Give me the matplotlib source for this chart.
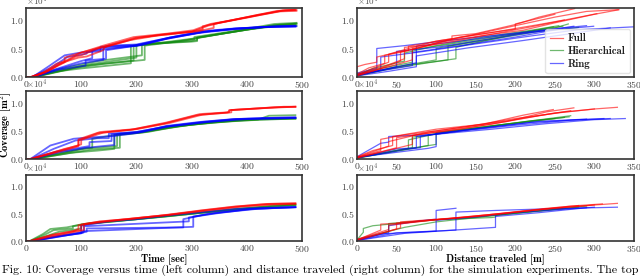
import matplotlib
matplotlib.use("Agg")
import matplotlib.pyplot as plt
from matplotlib.ticker import ScalarFormatter

plt.rcParams['font.family'] = ['cmr10', 'DejaVu Serif']
plt.rcParams['mathtext.fontset'] = 'cm'
plt.rcParams['axes.unicode_minus'] = False
plt.rcParams['axes.formatter.use_mathtext'] = True

# ---------------- data (coverage in m^2) ----------------
# Top-left: coverage vs time
TL_RED = [
    ([0, 8, 30, 55, 75, 98, 140, 195, 255, 303, 334, 376, 455, 488],
     [0, 0, 700, 2300, 3000, 4200, 5500, 7000, 7600, 8200, 9300, 10000, 11600, 11700]),
    ([0, 10, 35, 60, 70, 70, 100, 145, 200, 260, 300, 320, 320, 380, 460, 490],
     [0, 0, 800, 2200, 2600, 3400, 4300, 5400, 6900, 7500, 8000, 8300, 8900, 10100, 11500, 11600]),
    ([0, 9, 40, 65, 95, 110, 140, 142, 200, 250, 310, 340, 340, 400, 465, 490],
     [0, 0, 1100, 2500, 3400, 3600, 4700, 5200, 6800, 7500, 8000, 8600, 9300, 10400, 11700, 11800]),
    ([0, 12, 45, 80, 90, 100, 130, 190, 240, 300, 330, 350, 420, 470, 487],
     [0, 0, 1300, 3100, 3600, 3800, 5000, 6500, 7300, 7900, 9000, 9500, 10900, 11700, 11800]),
]
TL_GREEN = [
    ([0, 14, 50, 100, 190, 190, 240, 300, 310, 310, 400, 460, 490],
     [0, 0, 900, 1500, 2400, 5400, 5900, 6300, 6500, 6900, 8300, 9200, 9300]),
    ([0, 12, 60, 100, 195, 195, 250, 305, 305, 380, 450, 490],
     [0, 0, 1000, 1900, 2900, 5500, 6000, 6600, 7000, 8100, 9300, 9500]),
    ([0, 15, 70, 120, 200, 200, 260, 300, 380, 450, 488],
     [0, 0, 1300, 2300, 3400, 5600, 6200, 6700, 8000, 9100, 9300]),
    ([0, 10, 80, 130, 210, 210, 240, 300, 310, 310, 400, 460, 490],
     [0, 0, 1800, 2800, 3800, 5700, 5900, 6200, 6300, 6900, 8300, 9000, 9000]),
    ([0, 16, 90, 140, 215, 215, 280, 350, 420, 490],
     [0, 0, 1600, 2300, 3000, 5500, 6300, 7500, 8600, 9400]),
]
TL_BLUE = [
    ([0, 12, 40, 70, 100, 135, 135, 200, 255, 315, 376, 436, 488],
     [0, 0, 1800, 3800, 4300, 4500, 5300, 5600, 6800, 8000, 8500, 8800, 8900]),
    ([0, 10, 45, 75, 110, 110, 150, 200, 260, 320, 380, 440, 488],
     [0, 0, 1600, 3500, 4100, 4300, 5500, 5700, 6900, 7900, 8500, 8800, 8850]),
    ([0, 14, 50, 100, 140, 140, 200, 250, 310, 380, 440, 490],
     [0, 0, 1200, 2400, 3000, 5100, 5500, 6600, 7700, 8400, 8800, 8900]),
    ([0, 12, 55, 100, 120, 120, 210, 260, 320, 380, 440, 488],
     [0, 0, 1400, 2800, 3300, 4600, 5600, 6900, 7900, 8500, 8800, 8900]),
    ([0, 15, 60, 108, 108, 145, 145, 200, 260, 330, 400, 460, 487],
     [0, 0, 1300, 2000, 2900, 3200, 4700, 5500, 6800, 8000, 8600, 8900, 9000]),
]

# Middle-left
ML_RED = [
    ([0, 7, 44, 70, 95, 95, 134, 195, 255, 315, 365, 370, 436, 467, 488],
     [0, 0, 1000, 1800, 2400, 3500, 4800, 5300, 6500, 8000, 8300, 8700, 9100, 9300, 9300]),
    ([0, 8, 50, 80, 100, 100, 140, 200, 260, 320, 368, 368, 440, 488],
     [0, 0, 1200, 2000, 2600, 3400, 4700, 5300, 6400, 7900, 8300, 8700, 9100, 9300]),
    ([0, 9, 40, 90, 95, 95, 130, 190, 250, 310, 372, 372, 450, 488],
     [0, 0, 800, 2100, 2300, 3300, 4600, 5200, 6300, 7800, 8300, 8700, 9200, 9300]),
]
ML_GREEN = [
    ([0, 10, 60, 110, 165, 165, 210, 260, 330, 400, 488],
     [0, 0, 1000, 1900, 2300, 4400, 4700, 5600, 6500, 7000, 7200]),
    ([0, 12, 70, 120, 170, 170, 220, 280, 350, 420, 488],
     [0, 0, 900, 1700, 2000, 4400, 4800, 5900, 6600, 7100, 7200]),
    ([0, 14, 80, 130, 160, 160, 200, 260, 340, 420, 440, 488],
     [0, 0, 1100, 1500, 1800, 4200, 4600, 5700, 6500, 7000, 7700, 7800]),
    ([0, 11, 60, 100, 120, 120, 170, 230, 300, 380, 488],
     [0, 0, 900, 1800, 2000, 3600, 4400, 5100, 6100, 6800, 7200]),
]
ML_BLUE = [
    ([0, 8, 44, 86, 110, 160, 200, 255, 316, 376, 436, 488],
     [0, 0, 2400, 3600, 3800, 4100, 4600, 5900, 6600, 7100, 7300, 7400]),
    ([0, 10, 50, 90, 130, 150, 150, 200, 255, 320, 380, 488],
     [0, 0, 1800, 3300, 3700, 3700, 4500, 4800, 5800, 6600, 7100, 7300]),
    ([0, 12, 60, 110, 160, 160, 210, 260, 320, 380, 440, 488],
     [0, 0, 1200, 2000, 2500, 4300, 4800, 5800, 6500, 7100, 7300, 7400]),
    ([0, 11, 55, 115, 115, 155, 155, 200, 255, 330, 400, 488],
     [0, 0, 1300, 2300, 3000, 3200, 4400, 4800, 5800, 6600, 7100, 7300]),
]

# Bottom-left
BL_RED = [
    ([0, 7, 44, 92, 100, 100, 134, 195, 255, 316, 376, 436, 488],
     [0, 0, 1000, 1900, 2000, 3000, 3600, 4100, 4800, 5600, 6300, 6800, 6900]),
    ([0, 8, 50, 85, 95, 95, 140, 200, 260, 320, 380, 440, 488],
     [0, 0, 1200, 1800, 2200, 2900, 3500, 4200, 4800, 5600, 6300, 6800, 6900]),
    ([0, 9, 40, 80, 105, 105, 130, 190, 250, 320, 390, 450, 488],
     [0, 0, 700, 1500, 2000, 3100, 3500, 4100, 4700, 5500, 6300, 6700, 6800]),
]
BL_GREEN = [
    ([0, 7, 31, 44, 74, 98, 110, 160, 255, 320, 400, 450, 488],
     [0, 0, 1300, 2200, 2500, 3000, 3200, 3600, 4500, 5200, 6000, 6500, 6700]),
    ([0, 8, 35, 50, 85, 85, 120, 200, 260, 330, 410, 488],
     [0, 0, 1200, 2000, 2300, 2700, 3300, 4000, 4600, 5300, 6000, 6600]),
    ([0, 9, 40, 60, 90, 100, 100, 150, 230, 300, 380, 450, 488],
     [0, 0, 1000, 1700, 2100, 2300, 3000, 3500, 4300, 5000, 5900, 6400, 6600]),
]
BL_BLUE = [
    ([0, 10, 60, 100, 100, 150, 200, 260, 320, 380, 440, 488],
     [0, 0, 900, 1400, 2800, 3600, 4000, 4700, 5300, 5900, 6100, 6200]),
    ([0, 12, 60, 100, 110, 110, 285, 285, 330, 400, 460, 488],
     [0, 0, 800, 1500, 1700, 2300, 2500, 4000, 5000, 5800, 6100, 6200]),
    ([0, 11, 70, 103, 103, 303, 303, 350, 420, 488],
     [0, 0, 1000, 1500, 1800, 2600, 4500, 5200, 5900, 6200]),
    ([0, 10, 55, 100, 105, 105, 295, 295, 340, 410, 488],
     [0, 0, 900, 1600, 1700, 2700, 3600, 4300, 5000, 5900, 6200]),
]

# Top-right: coverage vs distance
TR_RED = [
    ([0, 0, 10, 25, 25, 50, 75, 100, 150, 200, 250, 290, 330],
     [1500, 1800, 2200, 2600, 3500, 4300, 5000, 6000, 7500, 9000, 10500, 11500, 11800]),
    ([0, 20, 40, 40, 60, 100, 120, 120, 150, 200, 230, 260, 275],
     [300, 1500, 2600, 4000, 4800, 6300, 6700, 7200, 7600, 9200, 10500, 11500, 12000]),
    ([0, 30, 55, 55, 75, 110, 160, 210, 250, 300, 331],
     [200, 1500, 2800, 4400, 5000, 6200, 7300, 8200, 9500, 11000, 11800]),
    ([0, 35, 60, 60, 90, 130, 180, 200, 200, 230, 250],
     [400, 1900, 3200, 5200, 5600, 7000, 8000, 8400, 9300, 10300, 11000]),
    ([0, 40, 70, 70, 120, 170, 220, 270, 303],
     [300, 1800, 3000, 5000, 6200, 7500, 8800, 10200, 11100]),
    ([0, 15, 35, 35, 65, 65, 110, 170, 230, 262],
     [500, 1600, 2400, 3800, 4600, 5400, 6500, 7800, 9200, 10000]),
]
TR_GREEN = [
    ([0, 50, 100, 100, 150, 200, 250, 267],
     [300, 1800, 3000, 5000, 6300, 7500, 8600, 9300]),
    ([0, 60, 125, 125, 160, 210, 248],
     [200, 2000, 3200, 5200, 6300, 7800, 8800]),
    ([0, 30, 70, 70, 110, 180, 240, 260],
     [500, 1500, 2600, 4800, 5600, 7200, 8500, 8900]),
    ([0, 40, 90, 115, 115, 170, 230, 280],
     [200, 1400, 2500, 3000, 5400, 6600, 8000, 8700]),
    ([0, 20, 60, 60, 100, 160, 220, 255],
     [300, 1500, 2800, 4200, 5500, 7000, 8200, 9000]),
]
TR_BLUE = [
    ([0, 30, 30, 80, 150, 220, 280, 350],
     [500, 1200, 3500, 4400, 5800, 7200, 8300, 8800]),
    ([0, 75, 75, 130, 190, 250, 299],
     [300, 2500, 5400, 6300, 7400, 8300, 8900]),
    ([0, 50, 50, 100, 160, 220, 274],
     [300, 1800, 4500, 5200, 6500, 7800, 8900]),
    ([0, 25, 25, 60, 120, 200, 260, 290],
     [700, 1500, 5000, 5500, 6500, 7700, 8600, 9000]),
    ([0, 70, 70, 130, 200, 260],
     [400, 2000, 4300, 5500, 7000, 8500]),
    ([0, 40, 75, 75, 140, 210, 280, 320],
     [200, 1000, 1800, 3700, 5100, 6400, 7800, 8600]),
]

# Middle-right
MR_RED = [
    ([0, 30, 30, 60, 100, 150, 200, 250, 300, 329],
     [300, 1500, 3500, 4300, 5000, 6000, 7000, 8200, 8900, 9200]),
    ([0, 50, 50, 80, 130, 190, 240, 274],
     [200, 2000, 3800, 4400, 5300, 6700, 8400, 9100]),
    ([0, 20, 45, 45, 100, 160, 210, 248],
     [400, 1500, 2400, 4000, 5300, 6200, 7800, 8800]),
    ([0, 70, 70, 110, 170, 230, 270],
     [200, 2600, 4200, 5000, 6200, 7700, 8600]),
    ([0, 40, 40, 90, 140, 200, 260, 300],
     [300, 2300, 3100, 4800, 5800, 7200, 8300, 8900]),
]
MR_GREEN = [
    ([0, 60, 90, 90, 150, 210, 270],
     [200, 1600, 2400, 4300, 5500, 6600, 7700]),
    ([0, 70, 70, 120, 180, 240, 262],
     [300, 2000, 3900, 4800, 6000, 7000, 7400]),
    ([0, 50, 100, 100, 160, 220, 250],
     [100, 1500, 2600, 4700, 5700, 6800, 7200]),
    ([0, 65, 65, 110, 170, 230, 268],
     [200, 1900, 3400, 4800, 5900, 6900, 7500]),
]
MR_BLUE = [
    ([0, 30, 40, 40, 100, 170, 240, 300, 339],
     [400, 2800, 3000, 4000, 4400, 5300, 6300, 7000, 7200]),
    ([0, 60, 80, 80, 150, 220, 280, 312],
     [200, 1700, 2000, 4000, 5400, 6500, 7000, 7200]),
    ([0, 90, 100, 100, 160, 230, 290],
     [300, 1900, 2200, 4600, 5500, 6700, 7100]),
    ([0, 50, 75, 75, 120, 200, 270, 320],
     [200, 1800, 2000, 4000, 4800, 6000, 6900, 7200]),
]

# Bottom-right
BR_RED = [
    ([0, 30, 30, 60, 100, 150, 200, 250, 300, 329],
     [200, 2000, 3100, 3300, 3900, 4600, 5300, 6000, 6600, 6900]),
    ([0, 50, 50, 90, 140, 190, 240, 280],
     [100, 2200, 3300, 3800, 4400, 5200, 6000, 6500]),
    ([0, 40, 40, 100, 160, 220, 270, 310],
     [300, 2100, 2900, 3900, 4600, 5600, 6400, 6800]),
    ([0, 55, 55, 120, 180, 240, 300],
     [200, 2400, 3500, 4200, 5000, 5900, 6600]),
]
BR_GREEN = [
    ([0, 8, 8, 20, 50, 100, 160, 220, 280],
     [200, 1600, 2300, 2800, 3200, 3900, 4500, 5400, 6200]),
    ([0, 40, 40, 100, 170, 175, 175, 240, 290],
     [100, 1700, 3200, 3900, 4300, 4400, 4700, 5600, 6400]),
    ([0, 60, 100, 150, 200, 260],
     [300, 2500, 3500, 4300, 5100, 6000]),
]
BR_BLUE = [
    ([0, 40, 40, 80, 100, 100, 125],
     [200, 1500, 2800, 3700, 4000, 5600, 6000]),
    ([0, 50, 125, 125, 175, 240, 300, 329],
     [100, 1500, 2000, 5300, 5600, 5900, 6100, 6200]),
    ([0, 60, 175, 175, 230, 290],
     [100, 1400, 2500, 4500, 5200, 6100]),
    ([0, 30, 100, 100, 150, 200, 260, 300],
     [200, 1300, 1800, 3800, 4400, 5200, 5800, 6200]),
]

LEGEND_LABELS = ["Full", "Hierarchical", "Ring"]
TIME_TICKS = [0, 100, 200, 300, 400, 500]
DIST_TICKS = [0, 50, 100, 150, 200, 250, 300, 350]
Y_TICKS = [0, 5000, 10000]

COLORS = {"red": "#ff0000", "green": "#108a10", "blue": "#0000ff"}

fig = plt.figure(figsize=(6.4, 2.76), dpi=100)

lefts = [26 / 640, 357 / 640]
widths = [276 / 640, 277 / 640]
row_bottoms = [1 - 77 / 276, 1 - 159 / 276, 1 - 241 / 276]
row_heights = [69 / 276, 68 / 276, 66 / 276]

panels = [
    [(TL_RED, TL_GREEN, TL_BLUE), (TR_RED, TR_GREEN, TR_BLUE)],
    [(ML_RED, ML_GREEN, ML_BLUE), (MR_RED, MR_GREEN, MR_BLUE)],
    [(BL_RED, BL_GREEN, BL_BLUE), (BR_RED, BR_GREEN, BR_BLUE)],
]

for r in range(3):
    for c in range(2):
        ax = fig.add_axes([lefts[c], row_bottoms[r], widths[c], row_heights[r]])
        reds, greens, blues = panels[r][c]
        lw = 1.3 if c == 0 else 0.9
        al = 0.6
        for i, (xs, ys) in enumerate(greens):
            ax.plot(xs, ys, color=COLORS["green"], lw=lw, alpha=al,
                    label=LEGEND_LABELS[1] if i == 0 else None)
        for i, (xs, ys) in enumerate(blues):
            ax.plot(xs, ys, color=COLORS["blue"], lw=lw, alpha=al,
                    label=LEGEND_LABELS[2] if i == 0 else None)
        for i, (xs, ys) in enumerate(reds):
            ax.plot(xs, ys, color=COLORS["red"], lw=lw, alpha=al,
                    label=LEGEND_LABELS[0] if i == 0 else None)
        if c == 0:
            ax.set_xlim(0, 500)
            ax.set_xticks(TIME_TICKS)
        else:
            ax.set_xlim(0, 350)
            ax.set_xticks(DIST_TICKS)
        ax.set_ylim(0, 12100)
        ax.set_yticks(Y_TICKS)
        fmt = ScalarFormatter(useMathText=True)
        fmt.set_powerlimits((0, 0))
        ax.yaxis.set_major_formatter(fmt)
        ax.yaxis.get_offset_text().set_visible(False)
        ax.text(0.0, 1.0, r"$\times10^{4}$", transform=ax.transAxes,
                ha="left", va="bottom", fontsize=6.5, color="#555555")
        ax.tick_params(length=0, labelsize=7, colors="#444444", pad=1.5)
        for s in ax.spines.values():
            s.set_color("#333333")
            s.set_linewidth(1.2)
        if r == 0 and c == 1:
            h, l = ax.get_legend_handles_labels()
            order = [l.index(x) for x in LEGEND_LABELS]
            leg = ax.legend([h[i] for i in order], [l[i] for i in order],
                            loc="lower right", prop={"family": "cmb10", "size": 7.8},
                            frameon=True, fancybox=True, handlelength=1.25,
                            handletextpad=0.45, borderpad=0.4, labelspacing=0.25,
                            borderaxespad=0.35)
            leg.get_frame().set_edgecolor("#dddddd")
            for t in leg.get_texts():
                t.set_color("#222222")
        if r == 2:
            ax.set_xlabel("Time [sec]" if c == 0 else "Distance traveled [m]",
                          fontfamily="cmb10", fontsize=7.5, labelpad=-1)

fig.text(6 / 640, 1 - 125 / 276, r"Coverage [m$^{\mathbf{2}}$]",
         family="cmb10", fontsize=7.5, rotation=90, ha="center", va="center")

fig.text(0.003, 1 - 265 / 276,
         "Fig. 10: Coverage versus time (left column) and distance traveled (right column) for the simulation experiments. The top",
         fontsize=8.6, va="top", ha="left")

fig.savefig("out.png", dpi=100)
